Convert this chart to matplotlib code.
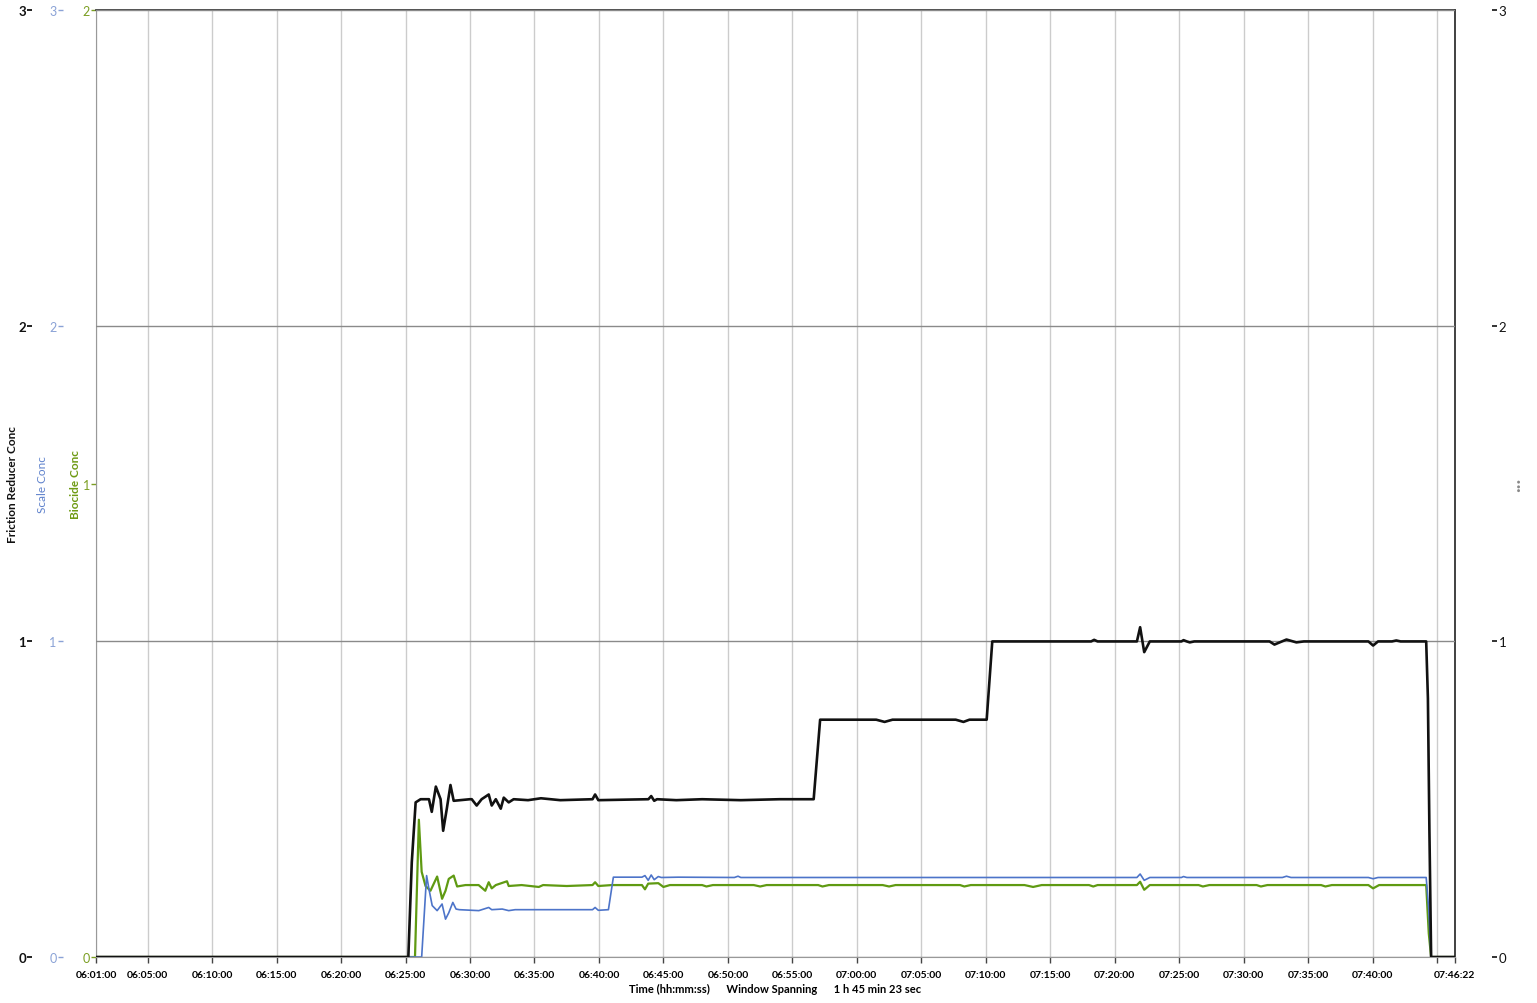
import pandas as pd
import matplotlib.pyplot as plt

# Friction Reducer Conc (black, 0-3 scale)
fr_time = ['06:01:00', '06:25:13', '06:25:29', '06:25:47', '06:26:10', '06:26:49', '06:27:02',
           '06:27:21', '06:27:43', '06:27:55', '06:28:12', '06:28:29', '06:28:44', '06:30:00',
           '06:30:08', '06:30:31', '06:30:54', '06:31:27', '06:31:41', '06:32:00', '06:32:23',
           '06:32:37', '06:33:00', '06:33:23', '06:34:30', '06:35:30', '06:37:00', '06:39:30',
           '06:39:42', '06:39:57', '06:43:50', '06:44:03', '06:44:17', '06:44:30', '06:46:00',
           '06:48:00', '06:51:00', '06:54:00', '06:56:39', '06:57:09', '07:01:30', '07:02:09',
           '07:02:46', '07:07:40', '07:08:16', '07:08:44', '07:10:04', '07:10:30', '07:18:10',
           '07:18:24', '07:18:40', '07:21:43', '07:21:58', '07:22:17', '07:22:43', '07:23:00',
           '07:25:10', '07:25:20', '07:25:35', '07:25:49', '07:26:10', '07:32:00', '07:32:23',
           '07:33:19', '07:34:05', '07:34:40', '07:39:40', '07:40:02', '07:40:25', '07:41:30',
           '07:41:50', '07:42:10', '07:44:09', '07:44:17', '07:44:24', '07:44:32', '07:46:22']
fr_conc = [0, 0, 0.30, 0.49, 0.50, 0.50, 0.46,
           0.54, 0.50, 0.40, 0.47, 0.545, 0.495, 0.50,
           0.50, 0.48, 0.50, 0.515, 0.48, 0.50, 0.47,
           0.505, 0.49, 0.50, 0.497, 0.503, 0.497, 0.50,
           0.515, 0.497, 0.50, 0.51, 0.495, 0.50, 0.497,
           0.50, 0.497, 0.50, 0.50, 0.752, 0.752, 0.745,
           0.752, 0.752, 0.745, 0.752, 0.752, 1.0, 1.0,
           1.005, 1.0, 1.0, 1.045, 0.966, 1.0, 1.0,
           1.0, 1.004, 1.0, 0.997, 1.0, 1.0, 0.99,
           1.006, 0.997, 1.0, 1.0, 0.987, 1.0, 1.0,
           1.003, 1.0, 1.0, 0.82, 0.40, 0, 0]

# Scale Conc (blue, 0-3 scale)
sc_time = ['06:01:00', '06:26:15', '06:26:38', '06:26:49', '06:27:04', '06:27:27', '06:27:50',
           '06:28:06', '06:28:21', '06:28:40', '06:28:55', '06:29:10', '06:30:41', '06:31:27',
           '06:31:41', '06:32:30', '06:33:00', '06:33:30', '06:39:30', '06:39:42', '06:39:57',
           '06:40:44', '06:41:07', '06:41:46', '06:43:20', '06:43:34', '06:43:49', '06:44:03',
           '06:44:17', '06:44:36', '06:44:50', '06:46:09', '06:50:30', '06:50:47', '06:51:00',
           '07:21:43', '07:21:58', '07:22:17', '07:22:43', '07:25:10', '07:25:20', '07:25:35',
           '07:33:00', '07:33:19', '07:33:40', '07:39:40', '07:40:02', '07:40:25', '07:44:09',
           '07:44:21', '07:44:32', '07:46:22']
sc_conc = [0, 0, 0.258, 0.215, 0.163, 0.147, 0.168,
           0.12, 0.14, 0.173, 0.152, 0.150, 0.147, 0.157,
           0.15, 0.152, 0.147, 0.150, 0.150, 0.157, 0.148,
           0.15, 0.253, 0.253, 0.253, 0.258, 0.243, 0.26,
           0.245, 0.255, 0.252, 0.253, 0.252, 0.256, 0.252,
           0.252, 0.263, 0.243, 0.252, 0.252, 0.255, 0.252,
           0.252, 0.256, 0.252, 0.252, 0.248, 0.252, 0.252,
           0.15, 0, 0]

# Biocide Conc (green, 0-2 scale)
bc_time = ['06:01:00', '06:25:44', '06:26:02', '06:26:15', '06:26:33', '06:26:56', '06:27:27',
           '06:27:50', '06:28:06', '06:28:21', '06:28:44', '06:29:00', '06:29:39', '06:30:40',
           '06:31:11', '06:31:27', '06:31:41', '06:32:00', '06:32:52', '06:33:00', '06:34:00',
           '06:35:20', '06:35:40', '06:37:30', '06:39:30', '06:39:42', '06:39:57', '06:41:00',
           '06:43:20', '06:43:34', '06:43:49', '06:44:36', '06:45:00', '06:45:30', '06:48:00',
           '06:48:20', '06:48:50', '06:52:00', '06:52:30', '06:53:00', '06:57:00', '06:57:20',
           '06:57:50', '07:02:00', '07:02:30', '07:03:00', '07:08:00', '07:08:20', '07:08:50',
           '07:13:00', '07:13:40', '07:14:20', '07:18:00', '07:18:20', '07:18:40', '07:21:43',
           '07:21:58', '07:22:17', '07:22:43', '07:26:30', '07:26:50', '07:27:20', '07:31:00',
           '07:31:20', '07:31:50', '07:36:00', '07:36:20', '07:36:50', '07:39:40', '07:40:02',
           '07:40:30', '07:44:09', '07:44:21', '07:44:32', '07:46:22']
bc_conc = [0, 0, 0.29, 0.18, 0.15, 0.14, 0.17,
           0.123, 0.14, 0.165, 0.172, 0.149, 0.152, 0.152,
           0.14, 0.158, 0.145, 0.152, 0.16, 0.15, 0.152,
           0.148, 0.152, 0.150, 0.152, 0.158, 0.15, 0.152,
           0.152, 0.143, 0.155, 0.156, 0.148, 0.152, 0.152,
           0.149, 0.152, 0.152, 0.149, 0.152, 0.152, 0.149,
           0.152, 0.152, 0.149, 0.152, 0.152, 0.149, 0.152,
           0.152, 0.148, 0.152, 0.152, 0.149, 0.152, 0.152,
           0.159, 0.142, 0.152, 0.152, 0.149, 0.152, 0.152,
           0.149, 0.152, 0.152, 0.149, 0.152, 0.152, 0.145,
           0.152, 0.152, 0.05, 0, 0]

tick_labels = ['06:01:00', '06:05:00', '06:10:00', '06:15:00', '06:20:00', '06:25:00', '06:30:00',
               '06:35:00', '06:40:00', '06:45:00', '06:50:00', '06:55:00', '07:00:00', '07:05:00',
               '07:10:00', '07:15:00', '07:20:00', '07:25:00', '07:30:00', '07:35:00', '07:40:00',
               '07:45:00', '07:46:22']


def to_dt(ts):
    return pd.to_datetime(['2000-01-01 ' + t for t in ts])


plt.rcParams['font.family'] = ['Lato', 'DejaVu Sans']

fig = plt.figure(figsize=(15.37, 10.04), dpi=100)
ax_g = fig.add_axes([0.0625, 0.0458, 0.884, 0.943])
ax_b = ax_g.twinx()
ax_k = ax_g.twinx()
ax_r = ax_g.twinx()

black = '#111111'
blue = '#4d74c9'
green = '#5f9a12'

ax_g.plot(to_dt(bc_time), bc_conc, color=green, lw=1.6)
ax_b.plot(to_dt(sc_time), sc_conc, color=blue, lw=1.2)
ax_k.plot(to_dt(fr_time), fr_conc, color=black, lw=1.9)

ax_g.set_ylim(0, 2)
for a in (ax_b, ax_k, ax_r):
    a.set_ylim(0, 3)

xt = to_dt(tick_labels)
ax_g.set_xlim(xt[0], xt[-1])
ax_g.set_xticks(xt)
ax_g.set_xticklabels([t if t != '07:45:00' else '' for t in tick_labels],
                     fontsize=7.5, fontweight='bold')
ax_g.tick_params(axis='x', length=4, width=1, color='#444444', pad=5)
ax_g.grid(axis='x', color='#cccccc', lw=1)
ax_g.set_axisbelow(True)
ax_g.set_xlabel('Time (hh:mm:ss)      Window Spanning      1 h 45 min 23 sec',
                fontsize=8, fontweight='bold', labelpad=3)

# horizontal grid on the black scale
ax_k.set_yticks([0, 1, 2, 3])
ax_k.grid(axis='y', color='#8a8a8a', lw=1)

# spines
for a in (ax_b, ax_k, ax_r):
    for s in a.spines.values():
        s.set_visible(False)
ax_g.spines['left'].set_color('#999999')
ax_g.spines['bottom'].set_color('#999999')
ax_g.spines['top'].set_color('#444444')
ax_g.spines['top'].set_linewidth(1.3)
ax_g.spines['right'].set_color('#333333')
ax_g.spines['right'].set_linewidth(1.3)

# left y axes (outward offsets are in points: px / 1.389)
ax_g.set_yticks([0, 1, 2])
ax_g.tick_params(axis='y', colors='#7b9e22', length=3.5, width=1, pad=1, labelsize=9)
ax_g.set_ylabel('Biocide Conc', color='#6e9a12', fontsize=8.5, fontweight='bold', va='center')
ax_g.yaxis.set_label_coords(-0.0155, 0.5)

ax_b.yaxis.tick_left()
ax_b.yaxis.set_label_position('left')
ax_b.spines['left'].set_position(('outward', 24))
ax_b.set_yticks([0, 1, 2, 3])
ax_b.tick_params(axis='y', colors='#8aa2d6', length=3.5, width=1, pad=1, labelsize=9)
ax_b.set_ylabel('Scale Conc', color='#5f82cc', fontsize=8.5, va='center')
ax_b.yaxis.set_label_coords(-0.0397, 0.5)

ax_k.yaxis.tick_left()
ax_k.yaxis.set_label_position('left')
ax_k.spines['left'].set_position(('outward', 46))
ax_k.tick_params(axis='y', colors=black, length=3.5, width=1.3, pad=1, labelsize=9.5)
for lab in ax_k.get_yticklabels():
    lab.set_fontweight('bold')
ax_k.set_ylabel('Friction Reducer Conc', color=black, fontsize=8.5, fontweight='bold', va='center')
ax_k.yaxis.set_label_coords(-0.0618, 0.5)

# right axis
ax_r.spines['right'].set_position(('outward', 27))
ax_r.set_yticks([0, 1, 2, 3])
ax_r.tick_params(axis='y', colors=black, length=3.5, width=1.2, pad=1, labelsize=9.5)
ax_r.set_ylabel('...', color='#888888', fontsize=14, fontweight='bold', rotation=90, va='center')
ax_r.yaxis.set_label_coords(1.044, 0.5)

plt.savefig('out.png', dpi=100)
